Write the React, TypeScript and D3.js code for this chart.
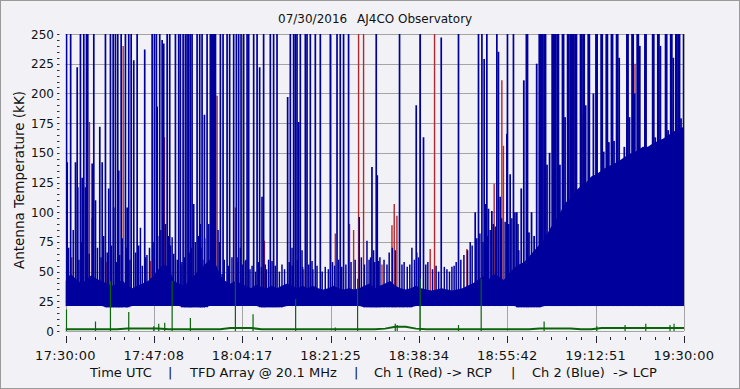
import React, { useEffect, useRef } from "react";
import * as d3 from "d3";

const timeLabels = ["17:30:00", "17:47:08", "18:04:17", "18:21:25", "18:38:34", "18:55:42", "19:12:51", "19:30:00"];
const yTicks = [0, 25, 50, 75, 100, 125, 150, 175, 200, 225, 250];

// Ch 2 (blue) dense body top, kK, one value per minute from 17:30
const blueTop = [
  42, 48, 44, 40, 43, 47, 44, 42, 40, 38, 40,
  43, 38, 36, 38, 40, 42, 46, 52, 56, 54,
  42, 40, 38, 42, 47, 52, 56, 60, 58, 47,
  42, 40, 42, 40, 38, 36, 39, 37, 36, 38,
  36, 38, 40, 38, 36, 38, 36, 38, 36, 35,
  36, 38, 36, 35, 36, 35, 36, 38, 40, 36,
  38, 40, 42, 38, 36, 35, 36, 38, 36, 35,
  34, 35, 36, 35, 34, 35, 36, 38, 40, 43,
  46, 43, 48, 46, 43, 48, 53, 56, 58, 63,
  68, 73, 78, 86, 93, 100, 108, 112, 118, 122,
  125, 130, 132, 135, 138, 140, 142, 145, 148, 150,
  152, 155, 155, 158, 160, 162, 165, 168, 170, 172,
];
// lower edge of the blue band, one value per 5 minutes
const blueFloor = [21, 21, 20, 21, 21, 20, 21, 21, 20, 21, 21, 21, 20, 20, 21, 21, 21, 21, 20, 21, 21, 21, 21, 21, 21];

// Ch 2 spikes: [minutes after 17:30, kK]
const blueSpikes: [number, number][] = [
  [0.2, 250], [0.33, 142], [1.0, 250], [1.94, 142], [2.27, 222], [2.38, 121], [2.9, 250], [3.24, 129], [3.55, 250],
  [3.88, 121], [4.07, 250], [4.32, 250], [5.18, 141], [5.49, 250], [5.82, 110], [6.65, 172], [7.12, 142], [7.75, 250],
  [8.39, 120], [8.72, 250], [9.25, 250], [9.36, 104], [9.69, 250], [10.14, 250], [10.33, 135], [10.8, 250],
  [11.63, 250], [11.96, 104], [12.27, 250], [12.74, 250], [13.24, 228], [13.9, 250], [14.54, 87], [15.37, 237],
  [15.51, 62], [16.81, 250], [17.25, 250], [17.64, 250], [17.78, 189], [18.28, 250], [18.75, 245], [19.06, 242],
  [19.72, 250], [20.22, 250], [20.69, 79], [21.33, 250], [21.96, 250], [22.29, 250], [22.82, 250], [23.26, 250],
  [23.59, 250], [23.9, 250], [24.23, 250], [24.56, 250], [24.87, 107], [25.53, 250], [26.04, 250], [26.17, 90],
  [26.5, 250], [26.95, 182], [27.47, 250], [28.1, 250], [28.3, 250], [28.5, 250], [28.7, 250], [28.9, 250],
  [29.1, 250], [30.05, 250], [30.38, 48], [30.57, 250], [31.35, 250], [31.85, 250], [32.63, 250], [33.15, 250],
  [33.29, 62], [33.6, 250], [33.93, 70], [34.06, 250], [34.57, 250], [34.9, 59], [35.23, 250], [35.54, 250],
  [36.51, 250], [37.17, 250], [37.67, 222], [38.13, 113], [38.44, 250], [38.77, 56], [39.74, 250], [40.07, 59],
  [40.38, 250], [41.04, 250], [43.1, 197], [43.62, 250], [43.95, 70], [44.26, 250], [44.59, 250], [44.92, 250],
  [45.23, 176], [45.56, 250], [45.89, 68], [46.53, 250], [46.86, 250], [47.5, 250], [47.83, 59], [48.47, 250],
  [49.44, 250], [51.38, 250], [52.68, 250], [53.31, 250], [53.95, 250], [54.92, 250], [57.0, 96], [58.49, 76],
  [59.46, 138], [59.77, 68], [60.29, 250], [60.49, 131], [60.74, 59], [62.37, 56], [64.81, 250], [65.28, 56],
  [67.21, 70], [68.05, 190], [68.82, 250], [69.46, 163], [72.9, 247], [74.97, 54], [76.25, 250], [78.52, 75],
  [79.49, 100], [80.13, 250], [80.79, 250], [81.23, 229], [81.43, 107], [81.75, 250], [82.07, 103], [82.72, 101],
  [83.69, 250], [84.0, 235], [84.33, 113], [85.63, 166], [85.75, 250], [86.27, 132], [86.91, 250], [87.57, 100],
];

// small noise spikes riding on the band
const blueSmall: [number, number][] = [
  [0.6, 70], [1.5, 85], [2.6, 60], [3.1, 75], [4.6, 65], [5.2, 95], [6.2, 70], [6.9, 62], [7.4, 80], [8.1, 66],
  [8.9, 72], [9.9, 58], [10.5, 64], [11.0, 78], [11.9, 70], [12.5, 60], [13.6, 66], [14.2, 72], [14.9, 55],
  [15.8, 64], [16.3, 70], [17.0, 75], [17.9, 80], [18.5, 85], [19.4, 90], [20.0, 80], [20.4, 72], [21.0, 65],
  [21.7, 60], [22.6, 58], [23.1, 62], [24.0, 66], [24.4, 70], [25.2, 75], [25.8, 80], [26.3, 70], [27.0, 78],
  [27.8, 90], [29.6, 85], [29.9, 75], [30.8, 60], [31.6, 55], [32.3, 62], [33.5, 58], [34.3, 56], [35.0, 60],
  [35.8, 52], [36.2, 55], [36.9, 50], [37.4, 58], [38.0, 54], [39.0, 52], [39.4, 60], [40.7, 55], [41.5, 50],
  [42.0, 56], [42.5, 52], [43.4, 58], [44.0, 55], [45.0, 60], [46.0, 54], [47.2, 56], [48.0, 52], [48.8, 55],
  [49.8, 50], [50.4, 54], [51.0, 52], [51.8, 58], [52.2, 55], [53.0, 60], [53.6, 54], [54.4, 56], [55.4, 58],
  [56.2, 60], [57.4, 62], [58.0, 56], [58.9, 60], [59.2, 62], [60.0, 58], [61.0, 62], [61.8, 60], [62.8, 66],
  [63.4, 70], [64.0, 68], [65.7, 58], [66.3, 54], [66.8, 56], [67.7, 60], [68.5, 62], [69.9, 56], [70.3, 58],
  [71.2, 52], [71.9, 55], [72.4, 50], [73.5, 54], [74.0, 52], [74.5, 50], [75.4, 55], [75.8, 58], [76.7, 60],
  [77.3, 64], [78.0, 68], [78.9, 72], [79.8, 78], [80.4, 82], [81.0, 75], [81.9, 80], [82.4, 85], [83.0, 90],
  [83.4, 88], [84.6, 95], [85.3, 92], [86.0, 90], [86.6, 95], [87.2, 100], [87.8, 90],
];

// storm section: Ch 2 column maxima every 0.5 min from 88 min
const stormStart = 88;
const stormMax = [
  68, 120, 211, 250, 83, 100, 80, 225, 250, 250, 250, 140, 150, 250, 250, 250, 140, 250, 180, 250,
  250, 250, 250, 51, 250, 250, 190, 250, 99, 200, 250, 90, 250, 151, 250, 159, 250, 160, 250, 230,
  127, 155, 250, 180, 250, 200, 250, 240, 129, 250, 128, 125, 250, 163, 250, 240, 160, 250, 169, 250,
  230, 250, 250, 179, 250,
];

// Ch 1 (red) spikes visible above Ch 2
const redSpikes: [number, number][] = [
  [1.2, 62], [4.65, 176], [7.9, 58], [11.19, 240], [14.0, 55], [16.48, 59], [19.2, 163], [22.5, 56], [26.7, 60],
  [29.41, 198], [32.96, 104], [38.6, 76], [46.2, 52], [52.35, 82], [55.1, 90], [55.9, 85], [56.86, 250],
  [57.83, 250], [61.4, 56], [63.34, 89], [63.78, 107], [64.3, 97], [68.2, 66], [70.76, 69], [71.6, 250],
  [77.88, 69], [83.17, 124], [84.66, 211], [84.97, 156], [93.06, 163], [94.67, 250], [98.9, 250], [100.2, 182],
  [110.5, 225], [112.4, 220], [115.0, 200], [117.6, 190],
];

// third trace (green), one value per 2 minutes
const greenBase = [
  1.5, 1.5, 1.5, 1.5, 1.5, 1.5, 2, 2, 2, 2, 1.5, 1.5, 1.5, 1.5, 1.5, 1.5, 2.5, 2.5, 2.5, 1.5,
  1.5, 1.5, 1.5, 1.5, 1.5, 1.5, 1.5, 1.5, 1.5, 1.5, 1.5, 2, 3.5, 3.5, 2, 1.5, 1.5, 1.5, 1.5, 1.5,
  1.5, 1.5, 1.5, 1.5, 1.5, 1.5, 2, 2, 2, 2, 1.5, 1.5, 2.5, 2.5, 2.5, 2.5, 2.5, 2.5, 2.5, 2.5, 2.5,
];
const greenSpikes: [number, number][] = [
  [0.19, 18], [5.82, 8], [8.72, 42], [12.27, 16], [17.12, 4], [18.09, 6], [19.25, 7], [20.69, 42], [24.23, 11],
  [32.96, 42], [36.39, 14], [44.65, 27], [52.35, 3], [56.67, 44], [63.98, 6], [64.36, 5], [68.82, 44],
  [76.25, 5], [80.65, 44], [92.86, 8], [103.08, 4], [108.57, 5], [112.58, 6], [117.29, 5], [118.07, 6],
];

const App = () => {
  const svgRef = useRef<SVGSVGElement>(null);

  useEffect(() => {
    const width = 740;
    const height = 389;
    const left = 65.5;
    const right = 684;
    const top = 34;
    const bottom = 331;
    const bg = "#f2f2f6";
    const blue = "#00009c";
    const red = "#b4282d";
    const green = "#0a640a";
    const font = "'DejaVu Sans', sans-serif";

    const svg = d3.select(svgRef.current);
    svg.selectAll("*").remove();
    svg.attr("width", width).attr("height", height);

    const x = d3.scaleLinear().domain([0, 120]).range([left, right]);
    const y = d3.scaleLinear().domain([0, 250]).range([bottom, top]);

    svg.append("rect").attr("width", width).attr("height", height).attr("fill", bg);
    svg.append("rect").attr("x", 0.5).attr("y", 0.5).attr("width", width - 1).attr("height", height - 1)
      .attr("fill", "none").attr("stroke", "#9a9a9a");

    svg.append("defs").append("clipPath").attr("id", "plot")
      .append("rect").attr("x", left).attr("y", top).attr("width", right - left).attr("height", bottom - top + 1);

    // grid
    const grid = svg.append("g").attr("stroke", "#a4a4a4").attr("stroke-width", 1);
    yTicks.forEach((v) => {
      grid.append("line").attr("x1", left).attr("x2", right)
        .attr("y1", Math.round(y(v)) + 0.5).attr("y2", Math.round(y(v)) + 0.5);
    });
    timeLabels.forEach((_, i) => {
      const xv = Math.round(x((i * 120) / 7)) + 0.5;
      grid.append("line").attr("x1", xv).attr("x2", xv).attr("y1", top).attr("y2", bottom);
    });

    const plot = svg.append("g").attr("clip-path", "url(#plot)");
    const floorAt = (t: number) => blueFloor[Math.min(blueFloor.length - 1, Math.round(t / 5))];

    // Ch 1 red spikes (below Ch 2)
    plot.append("g").selectAll("line").data(redSpikes).enter().append("line")
      .attr("x1", (d) => x(d[0])).attr("x2", (d) => x(d[0]))
      .attr("y1", (d) => y(floorAt(d[0]))).attr("y2", (d) => y(d[1]))
      .attr("stroke", red).attr("stroke-width", 1.4);

    // Ch 2 body
    const body = blueTop.map((v, i) => ({ t: i, top: v, floor: floorAt(i) }));
    const area = d3.area<{ t: number; top: number; floor: number }>()
      .x((d) => x(d.t)).y0((d) => y(d.floor)).y1((d) => y(d.top));
    plot.append("path").attr("d", area(body)).attr("fill", blue);

    // storm columns
    const step = x(0.5) - x(0);
    plot.append("g").selectAll("rect").data(stormMax).enter().append("rect")
      .attr("x", (_, i) => x(stormStart + i * 0.5) - step / 2)
      .attr("width", (d) => (d >= 250 ? step + 0.3 : step - 0.8))
      .attr("y", (d) => y(d))
      .attr("height", (d, i) => y(floorAt(stormStart + i * 0.5)) - y(d))
      .attr("fill", blue);

    // Ch 2 spikes
    plot.append("g").selectAll("line").data(blueSmall.concat(blueSpikes)).enter().append("line")
      .attr("x1", (d) => x(d[0])).attr("x2", (d) => x(d[0]))
      .attr("y1", (d) => y(floorAt(d[0]))).attr("y2", (d) => y(d[1]))
      .attr("stroke", blue).attr("stroke-width", (d) => (d[1] >= 100 ? 1.7 : 1.5));

    // green trace
    const gl = d3.line<number>().x((_, i) => x(i * 2)).y((d) => y(d));
    plot.append("path").attr("d", gl(greenBase)).attr("fill", "none").attr("stroke", green).attr("stroke-width", 2);
    plot.append("g").selectAll("line").data(greenSpikes).enter().append("line")
      .attr("x1", (d) => x(d[0])).attr("x2", (d) => x(d[0]))
      .attr("y1", y(0)).attr("y2", (d) => y(d[1]))
      .attr("stroke", green).attr("stroke-width", 1.2);

    // y axis ticks (every 5 kK) and labels
    const yt = svg.append("g").attr("stroke", "#333");
    d3.range(0, 251, 5).forEach((v) => {
      const yy = Math.round(y(v)) + 0.5;
      yt.append("line").attr("x1", 57).attr("x2", 59.5).attr("y1", yy).attr("y2", yy);
    });
    svg.append("g").selectAll("text").data(yTicks).enter().append("text")
      .attr("x", 54).attr("y", (d) => y(d) + 4.5)
      .attr("text-anchor", "end").attr("font-family", font).attr("font-size", 12)
      .attr("fill", "#111").text((d) => String(d));

    // x axis ticks
    const xt = svg.append("g").attr("stroke", "#223");
    d3.range(0, 43).forEach((i) => {
      const xv = Math.round(x((i * 120) / 42)) + 0.5;
      const major = i % 6 === 0;
      xt.append("line").attr("x1", xv).attr("x2", xv).attr("y1", major ? 336 : 337).attr("y2", major ? 343 : 340);
    });
    svg.append("g").selectAll("text").data(timeLabels).enter().append("text")
      .attr("x", (_, i) => x((i * 120) / 7)).attr("y", 360)
      .attr("text-anchor", "middle").attr("font-family", font).attr("font-size", 13)
      .attr("letter-spacing", 0.3).attr("fill", "#111").text((d) => d);

    // titles
    svg.append("text").attr("x", 278).attr("y", 23).attr("font-family", font).attr("font-size", 12)
      .attr("fill", "#111").text("07/30/2016");
    svg.append("text").attr("x", 357).attr("y", 23).attr("font-family", font).attr("font-size", 12)
      .attr("fill", "#111").text("AJ4CO Observatory");

    svg.append("text").attr("transform", "translate(24,180) rotate(-90)").attr("text-anchor", "middle")
      .attr("font-family", font).attr("font-size", 13.5).attr("fill", "#111").text("Antenna Temperature (kK)");

    const caption: [number, string][] = [
      [90, "Time UTC"], [168, "|"], [190, "TFD Array @ 20.1 MHz"], [354, "|"],
      [374, "Ch 1 (Red) -> RCP"], [511, "|"], [532, "Ch 2 (Blue)  -> LCP"],
    ];
    svg.append("g").selectAll("text").data(caption).enter().append("text")
      .attr("x", (d) => d[0]).attr("y", 377).attr("font-family", font).attr("font-size", 13)
      .attr("fill", "#111").attr("xml:space", "preserve").text((d) => d[1]);
  }, []);

  return <svg ref={svgRef} style={{ position: "absolute", left: 0, top: 0 }}></svg>;
};

export default App;
